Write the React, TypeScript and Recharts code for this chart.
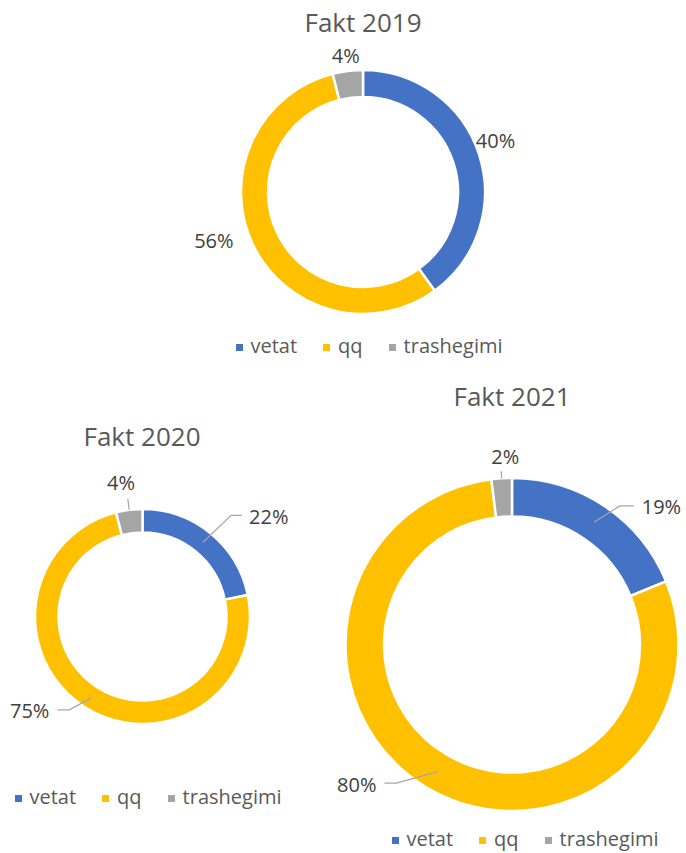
import React from "react";
import { Cell, Legend, Pie, PieChart } from "recharts";

const categories = ["vetat", "qq", "trashegimi"];
const colors = ["#4472C4", "#FFC000", "#A5A5A5"];

const fakt2019 = [40, 56, 4];
const fakt2020 = [22, 75, 4];
const fakt2021 = [19, 80, 2];

const FONT = "'Open Sans', 'Noto Sans', sans-serif";
const TITLE_COLOR = "#595959";
const LABEL_COLOR = "#404040";
const LINE_COLOR = "#A6A6A6";

type LabelSpec =
  | { kind: "plain"; dr: number; da: number }
  | { kind: "leader"; dr: number; da: number; run: number; gap: number }
  | { kind: "tick"; tick: number; dr: number; da: number };

// layout of each doughnut (positions only, values come from the arrays above)
const charts = [
  {
    title: "Fakt 2019",
    values: fakt2019,
    box: { left: 0, top: 0, width: 686, height: 370 },
    cx: 363,
    cy: 192,
    inner: 95,
    outer: 122,
    titleX: 363,
    titleY: 23,
    legendX: 369,
    legendY: 345,
    labels: [
      { kind: "plain", dr: 20, da: -3 },
      { kind: "plain", dr: 35, da: 7 },
      { kind: "plain", dr: 15.5, da: 0 },
    ] as LabelSpec[],
  },
  {
    title: "Fakt 2020",
    values: fakt2020,
    box: { left: 0, top: 370, width: 300, height: 450 },
    cx: 142.5,
    cy: 246.5,
    inner: 84,
    outer: 107.5,
    titleX: 142,
    titleY: 437,
    legendX: 148,
    legendY: 796,
    labels: [
      { kind: "leader", dr: 27, da: 2, run: 11, gap: 7 },
      { kind: "leader", dr: 11, da: 6, run: 12, gap: 8 },
      { kind: "tick", tick: 11, dr: 28, da: -2 },
    ] as LabelSpec[],
  },
  {
    title: "Fakt 2021",
    values: fakt2021,
    box: { left: 300, top: 370, width: 386, height: 483 },
    cx: 212,
    cy: 274.5,
    inner: 128,
    outer: 166.5,
    titleX: 512,
    titleY: 397,
    legendX: 525,
    legendY: 838,
    labels: [
      { kind: "leader", dr: 9, da: 4, run: 14, gap: 8 },
      { kind: "leader", dr: 14, da: 9.5, run: 12, gap: 8 },
      { kind: "tick", tick: 7, dr: 21, da: 1.5 },
    ] as LabelSpec[],
  },
];

const polar = (cx: number, cy: number, r: number, angle: number) => {
  const rad = (angle * Math.PI) / 180;
  return { x: cx + r * Math.cos(rad), y: cy - r * Math.sin(rad) };
};

function renderLabel(p: any, spec: LabelSpec, values: number[]) {
  const { cx, cy, midAngle, innerRadius, outerRadius, index } = p;
  const text = `${values[index]}%`;
  const ang = midAngle - spec.da;
  const textProps = { fontSize: 20, fontFamily: FONT, fill: LABEL_COLOR };

  if (spec.kind === "plain") {
    const t = polar(cx, cy, outerRadius + spec.dr, ang);
    return (
      <text x={t.x} y={t.y + 7} textAnchor="middle" {...textProps}>
        {text}
      </text>
    );
  }
  if (spec.kind === "tick") {
    const s = polar(cx, cy, outerRadius, midAngle);
    const e = polar(cx, cy, outerRadius + spec.tick, midAngle);
    const t = polar(cx, cy, outerRadius + spec.dr, ang);
    return (
      <g>
        <line x1={s.x} y1={s.y} x2={e.x} y2={e.y} stroke={LINE_COLOR} strokeWidth={1.2} />
        <text x={t.x} y={t.y + 7} textAnchor="middle" {...textProps}>
          {text}
        </text>
      </g>
    );
  }
  const s = polar(cx, cy, (innerRadius + outerRadius) / 2, midAngle);
  const e = polar(cx, cy, outerRadius + spec.dr, ang);
  const dir = e.x >= cx ? 1 : -1;
  const hx = e.x + dir * spec.run;
  return (
    <g>
      <path
        d={`M${s.x},${s.y}L${e.x},${e.y}L${hx},${e.y}`}
        fill="none"
        stroke={LINE_COLOR}
        strokeWidth={1.2}
      />
      <text
        x={hx + dir * spec.gap}
        y={e.y + 8.5}
        textAnchor={dir > 0 ? "start" : "end"}
        {...textProps}
      >
        {text}
      </text>
    </g>
  );
}

function LegendContent() {
  return (
    <div
      style={{
        display: "flex",
        justifyContent: "center",
        alignItems: "center",
        height: 28,
        fontFamily: FONT,
        fontSize: 20,
        color: TITLE_COLOR,
        whiteSpace: "nowrap",
      }}
    >
      {categories.map((c, i) => (
        <div
          key={c}
          style={{
            display: "flex",
            alignItems: "center",
            marginRight: i < categories.length - 1 ? 26 : 0,
          }}
        >
          <span
            style={{
              width: 7,
              height: 7,
              background: colors[i],
              marginRight: 8,
              position: "relative",
              top: 2,
            }}
          />
          <span>{c}</span>
        </div>
      ))}
    </div>
  );
}

function Doughnut({ chart }: { chart: (typeof charts)[number] }) {
  const data = categories.map((name, i) => ({ name, value: chart.values[i] }));
  const { box } = chart;
  return (
    <div style={{ position: "absolute", left: box.left, top: box.top }}>
      <PieChart
        width={box.width}
        height={box.height}
        margin={{ top: 0, right: 0, bottom: 0, left: 0 }}
      >
        <Pie
          data={data}
          dataKey="value"
          nameKey="name"
          cx={chart.cx}
          cy={chart.cy}
          innerRadius={chart.inner}
          outerRadius={chart.outer}
          startAngle={90}
          endAngle={-270}
          stroke="#ffffff"
          strokeWidth={2.5}
          labelLine={false}
          label={(p: any) => renderLabel(p, chart.labels[p.index], chart.values)}
          isAnimationActive={false}
        >
          {data.map((d, i) => (
            <Cell key={d.name} fill={colors[i]} />
          ))}
        </Pie>
        <Legend
          verticalAlign="bottom"
          content={() => <LegendContent />}
          wrapperStyle={{
            left: chart.legendX - box.left - 200,
            top: chart.legendY - box.top - 14,
            bottom: "auto",
            width: 400,
          }}
        />
      </PieChart>
    </div>
  );
}

export default function App() {
  return (
    <div
      style={{
        position: "absolute",
        left: 0,
        top: 0,
        width: 686,
        height: 853,
        background: "#ffffff",
        fontFamily: FONT,
        overflow: "hidden",
      }}
    >
      {charts.map((c) => (
        <Doughnut key={c.title} chart={c} />
      ))}
      {charts.map((c) => (
        <div
          key={c.title + "-title"}
          style={{
            position: "absolute",
            left: c.titleX - 150,
            top: c.titleY - 14,
            width: 300,
            height: 26,
            lineHeight: "26px",
            textAlign: "center",
            fontSize: 26,
            color: TITLE_COLOR,
          }}
        >
          {c.title}
        </div>
      ))}
    </div>
  );
}
